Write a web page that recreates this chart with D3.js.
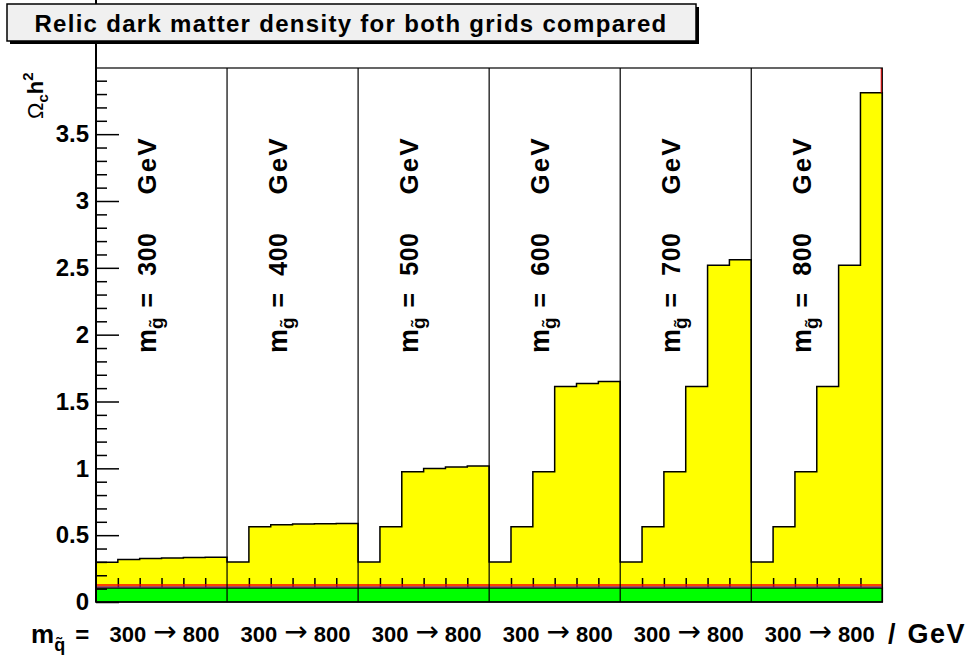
<!DOCTYPE html>
<html>
<head>
<meta charset="utf-8">
<script src="https://cdn.jsdelivr.net/npm/d3@7"></script>
<style>
  body { margin: 0; background: #fff; }
  text { font-family: "Liberation Sans", Arial, Helvetica, sans-serif; font-weight: bold; }
</style>
</head>
<body>
<svg id="chart" width="974" height="659"></svg>
<script>
// gluino mass panels, squark mass bins inside each panel
const gluinoMasses = [300, 400, 500, 600, 700, 800];
const squarkMasses = [300, 400, 500, 600, 700, 800];

// relic density Omega_c h^2, one array per gluino mass
const omega300 = [0.298, 0.318, 0.325, 0.330, 0.333, 0.335];
const omega400 = [0.300, 0.563, 0.578, 0.583, 0.586, 0.588];
const omega500 = [0.300, 0.563, 0.975, 0.998, 1.010, 1.018];
const omega600 = [0.300, 0.563, 0.975, 1.612, 1.635, 1.650];
const omega700 = [0.300, 0.563, 0.975, 1.612, 2.520, 2.560];
const omega800 = [0.300, 0.563, 0.975, 1.612, 2.520, 3.810];

// WMAP band and reference lines
const wmapBand = [0, 0.105];
const purpleLevel = 0.113;
const redLevel = 0.128;

const yMajorTicks = [0, 0.5, 1, 1.5, 2, 2.5, 3, 3.5];
const yMinorTicks = d3.range(1, 40).map(d => d / 10);

const allValues = [omega300, omega400, omega500, omega600, omega700, omega800].flat();
const nBins = allValues.length;
const perPanel = squarkMasses.length;

const svg = d3.select("#chart");

const frame = {left: 96, right: 882.3, top: 68, bottom: 602};

let x = d3.scaleLinear().domain([0, nBins]).range([frame.left, frame.right]);
let y = d3.scaleLinear().domain([0, 3.995]).range([frame.bottom, frame.top]);

// step points for the histogram
let steps = [];
allValues.forEach(function(v, i) { steps.push([i, v]); steps.push([i + 1, v]); });

let area = d3.area()
    .x(function(d) { return x(d[0]); })
    .y0(y(0))
    .y1(function(d) { return y(d[1]); });

svg.append("path").datum(steps)
    .attr("d", area)
    .attr("fill", "#ffff00");

let outline = [[0, 0]].concat(steps).concat([[nBins, 0]]);
svg.append("path").datum(outline)
    .attr("d", d3.line().x(function(d) { return x(d[0]); }).y(function(d) { return y(d[1]); }))
    .attr("fill", "none")
    .attr("stroke", "#000")
    .attr("stroke-width", 1.5);

// x ticks at squark bin edges (lower part hidden by the band)
let binEdges = d3.range(1, nBins).filter(function(d) { return d % perPanel != 0; });
let xTicks = svg.append("g")
    .attr("transform", `translate(0, ${frame.bottom})`)
    .call(d3.axisBottom(x).tickValues(binEdges).tickSizeInner(-24).tickSizeOuter(0).tickFormat(""));
xTicks.select(".domain").remove();
xTicks.selectAll("line").attr("stroke-width", 1.5);

// green band
svg.append("rect")
    .attr("x", x(0)).attr("y", y(wmapBand[1]))
    .attr("width", x(nBins) - x(0)).attr("height", y(wmapBand[0]) - y(wmapBand[1]))
    .attr("fill", "#00ff00").attr("stroke", "#000").attr("stroke-width", 1.5);

svg.append("line")
    .attr("x1", x(0)).attr("x2", x(nBins))
    .attr("y1", y(purpleLevel)).attr("y2", y(purpleLevel))
    .attr("stroke", "#7a1f7a").attr("stroke-width", 1.5);
svg.append("line")
    .attr("x1", x(0)).attr("x2", x(nBins))
    .attr("y1", y(redLevel)).attr("y2", y(redLevel))
    .attr("stroke", "#ff0000").attr("stroke-width", 1.5);
// second grid runs off the top in the last bin
svg.append("line")
    .attr("x1", x(nBins) - 1).attr("x2", x(nBins) - 1)
    .attr("y1", y(omega800[omega800.length - 1])).attr("y2", frame.top)
    .attr("stroke", "#ff0000").attr("stroke-width", 1.2);

// panel dividers
svg.selectAll(".divider")
    .data(gluinoMasses.slice(1))
    .enter()
    .append("line")
    .attr("class", "divider")
    .attr("x1", function(d, i) { return x((i + 1) * perPanel); })
    .attr("x2", function(d, i) { return x((i + 1) * perPanel); })
    .attr("y1", frame.top).attr("y2", frame.bottom)
    .attr("stroke", "#000").attr("stroke-width", 1.2);

// frame
svg.append("rect")
    .attr("x", frame.left).attr("y", frame.top)
    .attr("width", frame.right - frame.left).attr("height", frame.bottom - frame.top)
    .attr("fill", "none").attr("stroke", "#000").attr("stroke-width", 1.2);

// y axis
let yAxis = svg.append("g")
    .attr("transform", `translate(${frame.left}, 0)`)
    .call(d3.axisLeft(y).tickValues(yMajorTicks).tickSizeInner(-23).tickSizeOuter(0).tickPadding(7)
        .tickFormat(d3.format("")));
yAxis.select(".domain").remove();
yAxis.selectAll("line").attr("stroke-width", 1.5);
yAxis.selectAll("text").style("font-size", "24px").style("font-family", null).attr("fill", "#000");

let yMinor = svg.append("g")
    .attr("transform", `translate(${frame.left}, 0)`)
    .call(d3.axisLeft(y).tickValues(yMinorTicks.filter(function(d) { return Math.round(d * 10) % 5 != 0; }))
        .tickSizeInner(-11).tickSizeOuter(0).tickFormat(""));
yMinor.select(".domain").remove();
yMinor.selectAll("line").attr("stroke-width", 1.5);

svg.append("line")
    .attr("x1", frame.left).attr("x2", frame.left)
    .attr("y1", 0).attr("y2", frame.bottom)
    .attr("stroke", "#000").attr("stroke-width", 2);

// y title
let yTitle = svg.append("text")
    .attr("transform", "translate(43, 119) rotate(-90)")
    .style("font-size", "22px");
yTitle.append("tspan").style("font-weight", "normal").text("Ω");
yTitle.append("tspan").attr("dy", 5).style("font-size", "15px").text("c");
yTitle.append("tspan").attr("dy", -5).text("h");
yTitle.append("tspan").attr("dy", -10).style("font-size", "15px").text("2");

// panel labels
gluinoMasses.forEach(function(m, i) {
    let t = svg.append("text")
        .attr("transform", `translate(${x(i * perPanel) + 60}, 353) rotate(-90)`)
        .style("font-size", "25px");
    t.append("tspan").style("font-size", "27px").text("m");
    t.append("tspan").attr("dy", 7).style("font-size", "19px").text("g\u0303");
    t.append("tspan").attr("dy", -7).attr("dx", 10).text("=");
    t.append("tspan").attr("dx", 17).style("letter-spacing", "0.5px").text(m);
    t.append("tspan").attr("dx", 38).style("font-size", "26px").style("letter-spacing", "2px").text("GeV");
});

// x axis labels
let xl = svg.append("text").attr("x", 31).attr("y", 643).style("font-size", "26px");
xl.append("tspan").text("m");
xl.append("tspan").attr("dy", 8).style("font-size", "18px").text("q\u0303");
xl.append("tspan").attr("dy", -8).attr("dx", 10).style("font-size", "24px").text("=");

gluinoMasses.forEach(function(m, i) {
    let g = svg.append("text")
        .attr("x", x(i * perPanel + perPanel / 2) + 3).attr("y", 642)
        .style("text-anchor", "middle")
        .style("font-size", "22px");
    g.append("tspan").text(squarkMasses[0]);
    g.append("tspan").attr("dx", 7).attr("dy", -1)
        .style("font-family", "'DejaVu Sans'").style("font-weight", "normal").style("font-size", "28px")
        .text("\u2192");
    g.append("tspan").attr("dx", 6).attr("dy", 1).text(squarkMasses[squarkMasses.length - 1]);
});

let unit = svg.append("text").attr("x", 888).attr("y", 643).style("font-size", "27px");
unit.append("tspan").text("/");
unit.append("tspan").attr("dx", 12).style("letter-spacing", "1.5px").text("GeV");

// title box with shadow, drawn last so it covers the axis line
svg.append("rect").attr("x", 10).attr("y", 7).attr("width", 689).attr("height", 37).attr("fill", "#000");
svg.append("rect").attr("x", 7).attr("y", 4).attr("width", 689).attr("height", 37)
    .attr("fill", "#f0f0f0").attr("stroke", "#000").attr("stroke-width", 1.5);
svg.append("text")
    .attr("x", 351).attr("y", 32)
    .style("text-anchor", "middle")
    .style("font-size", "24px")
    .style("letter-spacing", "1.3px")
    .text("Relic dark matter density for both grids compared");
</script>
</body>
</html>
